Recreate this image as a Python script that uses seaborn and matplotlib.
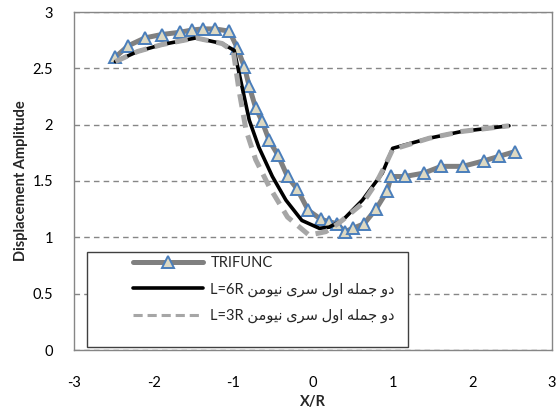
import numpy as np
import pandas as pd
import matplotlib
matplotlib.use("Agg")
import matplotlib.pyplot as plt
from matplotlib.patches import Rectangle
from matplotlib.lines import Line2D
import seaborn as sns

# ---------------- data ----------------
tri_x = [-2.48, -2.32, -2.11, -1.90, -1.67, -1.52, -1.38, -1.23, -1.05, -0.95, -0.86,
         -0.80, -0.72, -0.64, -0.55, -0.44, -0.32, -0.20, -0.06, 0.10, 0.20, 0.30,
         0.40, 0.50, 0.64, 0.79, 0.93, 0.98, 1.15, 1.39, 1.61, 1.88, 2.15, 2.34, 2.53]
tri_y = [2.60, 2.70, 2.77, 2.80, 2.82, 2.84, 2.85, 2.85, 2.83, 2.68, 2.51,
         2.34, 2.15, 2.03, 1.86, 1.73, 1.54, 1.43, 1.24, 1.16, 1.14, 1.12,
         1.05, 1.08, 1.12, 1.25, 1.41, 1.54, 1.54, 1.57, 1.63, 1.63, 1.68, 1.72, 1.76]

l6_x = [-2.48, -2.20, -1.90, -1.47, -1.14, -0.99, -0.91, -0.80, -0.68, -0.51, -0.34,
        -0.14, 0.08, 0.20, 0.37, 0.62, 0.87, 1.00, 1.46, 1.87, 2.46]
l6_y = [2.56, 2.65, 2.71, 2.77, 2.72, 2.66, 2.40, 2.04, 1.80, 1.54, 1.33,
        1.15, 1.08, 1.09, 1.15, 1.33, 1.57, 1.79, 1.88, 1.94, 1.99]

l3_x = [-2.48, -2.20, -1.90, -1.47, -1.14, -1.00, -0.93, -0.84, -0.72, -0.55, -0.32,
        -0.05, 0.16, 0.33, 0.62, 0.79, 0.90, 1.00, 1.46, 1.87, 2.46]
l3_y = [2.56, 2.65, 2.71, 2.77, 2.72, 2.65, 2.31, 1.95, 1.69, 1.45, 1.18,
        1.02, 1.05, 1.13, 1.30, 1.48, 1.63, 1.78, 1.88, 1.94, 1.99]

series_labels = ["TRIFUNC",
                 "دو جمله اول سری نیومن L=6R",
                 "دو جمله اول سری نیومن L=3R"]
x_ticks = [-3, -2, -1, 0, 1, 2, 3]
y_ticks = [0, 0.5, 1, 1.5, 2, 2.5, 3]
x_title = "X/R"
y_title = "Displacement Amplitude"

# ------------- simple Arabic-script shaping for display -------------
DUAL = {'\u062C': ('\uFE9D', '\uFE9E', '\uFE9F', '\uFEA0'),
        '\u0645': ('\uFEE1', '\uFEE2', '\uFEE3', '\uFEE4'),
        '\u0644': ('\uFEDD', '\uFEDE', '\uFEDF', '\uFEE0'),
        '\u0647': ('\uFEE9', '\uFEEA', '\uFEEB', '\uFEEC'),
        '\u0633': ('\uFEB1', '\uFEB2', '\uFEB3', '\uFEB4'),
        '\u0646': ('\uFEE5', '\uFEE6', '\uFEE7', '\uFEE8'),
        '\u06CC': ('\uFBFC', '\uFBFD', '\uFBFE', '\uFBFF')}
RIGHT = {'\u0627': ('\uFE8D', '\uFE8E'),
         '\u062F': ('\uFEA9', '\uFEAA'),
         '\u0631': ('\uFEAD', '\uFEAE'),
         '\u0648': ('\uFEED', '\uFEEE')}


def shape(text):
    out = []
    for i, c in enumerate(text):
        prev = text[i - 1] if i > 0 else None
        nxt = text[i + 1] if i + 1 < len(text) else None
        jp = prev in DUAL and (c in DUAL or c in RIGHT)
        jn = c in DUAL and nxt is not None and (nxt in DUAL or nxt in RIGHT)
        if c in DUAL:
            iso, fin, ini, med = DUAL[c]
            out.append(med if (jp and jn) else ini if jn else fin if jp else iso)
        elif c in RIGHT:
            iso, fin = RIGHT[c]
            out.append(fin if jp else iso)
        else:
            out.append(c)
    return "".join(out)


def display(s):
    idx = [i for i, c in enumerate(s) if '\u0600' <= c <= '\u06FF']
    if not idx:
        return s
    k = idx[-1] + 1
    arab, latin = s[:k].strip(), s[k:].strip()
    return (latin + " " + shape(arab)[::-1]).strip()


# ---------------- style ----------------
sns.set_style("white")
plt.rcParams['font.family'] = ['Lato', 'DejaVu Sans']
plt.rcParams['font.size'] = 10.5

fig = plt.figure(figsize=(5.57, 4.12), dpi=100)
ax = fig.add_axes([74 / 557, 1 - 350 / 412, 478 / 557, 338 / 412])

grid_c = "#868686"
tri_df = pd.DataFrame({"x": tri_x, "y": tri_y})
l6_df = pd.DataFrame({"x": l6_x, "y": l6_y})
l3_df = pd.DataFrame({"x": l3_x, "y": l3_y})

sns.lineplot(data=tri_df, x="x", y="y", ax=ax, sort=False, estimator=None,
             color="#808080", linewidth=3.6, marker="^", markersize=9,
             markerfacecolor="#DDD9C3", markeredgecolor="#4A7EBB",
             markeredgewidth=1.4, zorder=3)
sns.lineplot(data=l6_df, x="x", y="y", ax=ax, sort=False, estimator=None,
             color="black", linewidth=2.6, zorder=4)
sns.lineplot(data=l3_df, x="x", y="y", ax=ax, sort=False, estimator=None,
             color="#A6A6A6", linewidth=3.6, dashes=(2.6, 1.6), zorder=5)

ax.set_xlim(-3, 3)
ax.set_ylim(0, 3)
ax.set_xticks(x_ticks)
ax.set_yticks(y_ticks)
ax.set_xticklabels([str(v) for v in x_ticks])
ax.set_yticklabels([f"{v:g}" for v in y_ticks])
ax.tick_params(axis="both", length=0, labelsize=10.5, colors="black")
ax.tick_params(axis="x", pad=19)
ax.tick_params(axis="y", pad=15)
ax.yaxis.grid(True, color=grid_c, linestyle=(0, (4, 3)), linewidth=1.0, zorder=0)
ax.xaxis.grid(False)
ax.set_axisbelow(True)
for sp in ax.spines.values():
    sp.set_color(grid_c)
    sp.set_linewidth(1.0)

ax.set_xlabel(x_title, fontweight="bold", fontsize=10.5, labelpad=3)
ax.set_ylabel(y_title, fontweight="bold", fontsize=10.5, labelpad=3)

# legend box
box = Rectangle(((87 - 74) / 478, (350 - 347) / 338), (408 - 87) / 478, (347 - 252) / 338,
                transform=ax.transAxes, facecolor="white", edgecolor="#404040",
                linewidth=1.0, zorder=8)
ax.add_patch(box)

handles = [
    Line2D([], [], color="#808080", linewidth=3.6, marker="^", markersize=9,
           markerfacecolor="#DDD9C3", markeredgecolor="#4A7EBB", markeredgewidth=1.4),
    Line2D([], [], color="black", linewidth=2.6),
    Line2D([], [], color="#A6A6A6", linewidth=2.2, dashes=(3, 1.6)),
]
leg = ax.legend(handles, [display(s) for s in series_labels],
                loc="upper left", bbox_to_anchor=((133 - 74) / 478, (350 - 256) / 338),
                frameon=False, handlelength=4.8, handletextpad=0.5,
                labelspacing=0.85, borderpad=0.0, borderaxespad=0.0,
                fontsize=10.5, markerfirst=True)
leg.set_zorder(9)

fig.savefig("out.png", dpi=100)
